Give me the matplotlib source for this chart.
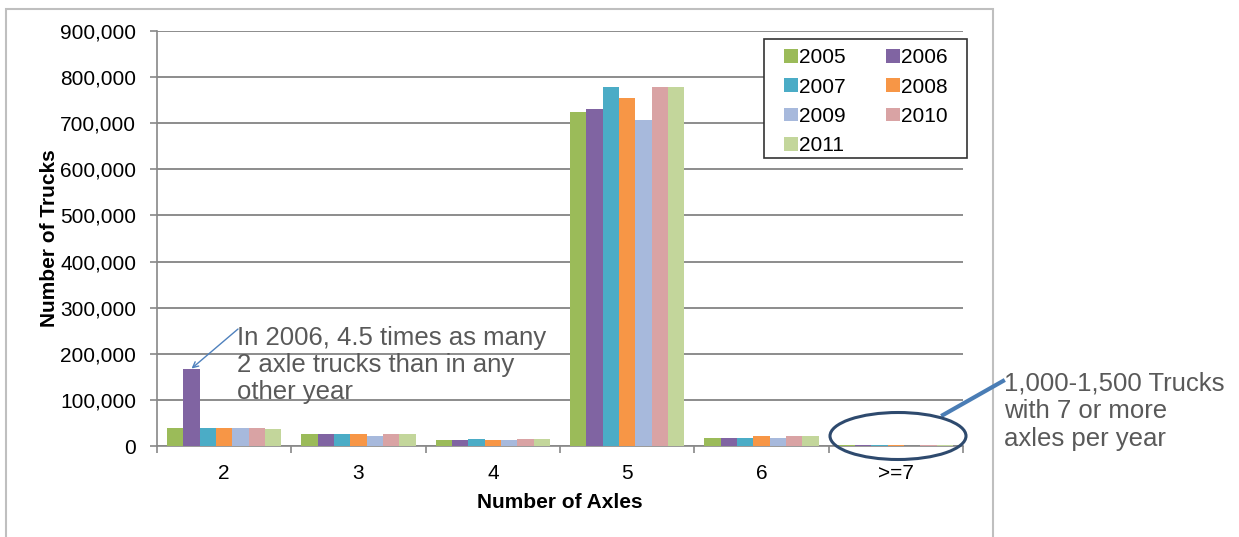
import matplotlib
matplotlib.use("Agg")
import matplotlib.pyplot as plt
import numpy as np
from matplotlib.patches import Ellipse, Rectangle
from matplotlib.ticker import FuncFormatter, MultipleLocator

plt.rcParams['font.family'] = ['Liberation Sans', 'DejaVu Sans']

# Truck counts by number of axles, one series per year
axle_groups = ["2", "3", "4", "5", "6", ">=7"]
years = ["2005", "2006", "2007", "2008", "2009", "2010", "2011"]
trucks_2005 = [40000, 26000, 12000, 724000, 18000, 1200]
trucks_2006 = [168000, 26000, 12000, 731000, 18000, 1100]
trucks_2007 = [40000, 26000, 15000, 779000, 18000, 1300]
trucks_2008 = [40000, 26000, 12000, 755000, 21000, 1500]
trucks_2009 = [40000, 22000, 12000, 707000, 18000, 1000]
trucks_2010 = [40000, 26000, 15000, 779000, 21000, 1400]
trucks_2011 = [36000, 26000, 15000, 779000, 21000, 1300]
series = [trucks_2005, trucks_2006, trucks_2007, trucks_2008,
          trucks_2009, trucks_2010, trucks_2011]
colors = ["#9BBB59", "#8064A2", "#4BACC6", "#F79646",
          "#A7B9DC", "#D9A3A4", "#C3D69B"]

W, H = 1239, 537
fig = plt.figure(figsize=(W / 100, H / 100), dpi=100)
ax = fig.add_axes([157 / W, 1 - 446 / H, (963 - 157) / W, (446 - 31) / H])


def fx(px):
    return px / W


def fy(py):
    return 1 - py / H


# outer chart frame
fig.patches.append(Rectangle((fx(6), -0.05), (993 - 6) / W, 1.05 - 9 / H,
                             transform=fig.transFigure, fill=False,
                             edgecolor="#BFBFBF", linewidth=1.5))

x = np.arange(len(axle_groups))
group_w = 0.85
bw = group_w / len(years)
bars = []
for i, (yr, vals, c) in enumerate(zip(years, series, colors)):
    b = ax.bar(x - group_w / 2 + bw * (i + 0.5), vals, width=bw, color=c,
               label=yr, zorder=3)
    bars.append(b)

ax.set_xlim(-0.5, len(axle_groups) - 0.5)
ax.set_ylim(0, 900000)
ax.yaxis.set_major_locator(MultipleLocator(100000))
ax.yaxis.set_major_formatter(FuncFormatter(lambda v, p: f"{int(v):,}"))
ax.set_xticks(x)
ax.set_xticklabels(axle_groups)
ax.set_xticks(np.arange(-0.5, len(axle_groups)), minor=True)
ax.tick_params(axis="x", which="major", length=0, labelsize=15, pad=13)
ax.tick_params(axis="x", which="minor", length=5, color="#888888", width=1.2)
ax.tick_params(axis="y", length=5, color="#888888", width=1.2, labelsize=15, pad=10)

ax.grid(axis="y", color="#8C8C8C", linewidth=1.4, zorder=0)
for s in ["top", "right"]:
    ax.spines[s].set_visible(False)
for s in ["left", "bottom"]:
    ax.spines[s].set_color("#888888")
    ax.spines[s].set_linewidth(1.2)

ax.set_ylabel("Number of Trucks", fontsize=15, fontweight="bold", labelpad=1)
ax.set_xlabel("Number of Axles", fontsize=15, fontweight="bold", labelpad=7)

# legend box, then entries laid out row by row: 2005 2006 / 2007 2008 / ...
ax.add_patch(Rectangle((fx(764), fy(158)), (967 - 764) / W, (158 - 39) / H,
                       transform=fig.transFigure, facecolor="white",
                       edgecolor="#333333", linewidth=1.2, zorder=9,
                       clip_on=False))
order = [0, 2, 4, 6, 1, 3, 5]
leg = ax.legend([bars[i] for i in order], [years[i] for i in order],
                ncol=2, loc="upper left", bbox_to_anchor=(fx(774), fy(38)),
                bbox_transform=fig.transFigure,
                fontsize=15, frameon=False, borderpad=0,
                handlelength=0.63, handleheight=0.63, handletextpad=0.08,
                columnspacing=1.95, labelspacing=0.49)
leg.set_zorder(10)

# callout for the 2006 two-axle spike
bar_2006_x = x[0] - group_w / 2 + bw * 1.5
ax.annotate("", xy=(bar_2006_x, trucks_2006[0]),
            xytext=(fx(238), fy(329)), textcoords="figure fraction",
            arrowprops=dict(arrowstyle="->", color="#4F81BD", lw=1.0,
                            shrinkA=0, shrinkB=0))
fig.text(fx(237), fy(326),
         "In 2006, 4.5 times as many\n2 axle trucks than in any\nother year",
         fontsize=18.5, color="#595959", va="top", ha="left", linespacing=1.15)

# circle around the 7+ axle group with its note
ell = Ellipse((fx(898), fy(436)), 136 / W, 47 / H, transform=fig.transFigure,
              fill=False, edgecolor="#2E4A6E", linewidth=2.2, zorder=5)
fig.patches.append(ell)
fig.lines.append(plt.Line2D([fx(943), fx(1003)], [fy(415), fy(381)],
                            transform=fig.transFigure, color="#4A7DB5",
                            linewidth=3))
fig.text(fx(1004), fy(371), "1,000-1,500 Trucks\nwith 7 or more\naxles per year",
         fontsize=18.5, color="#595959", va="top", ha="left", linespacing=1.2)

fig.savefig("out.png", dpi=100)
